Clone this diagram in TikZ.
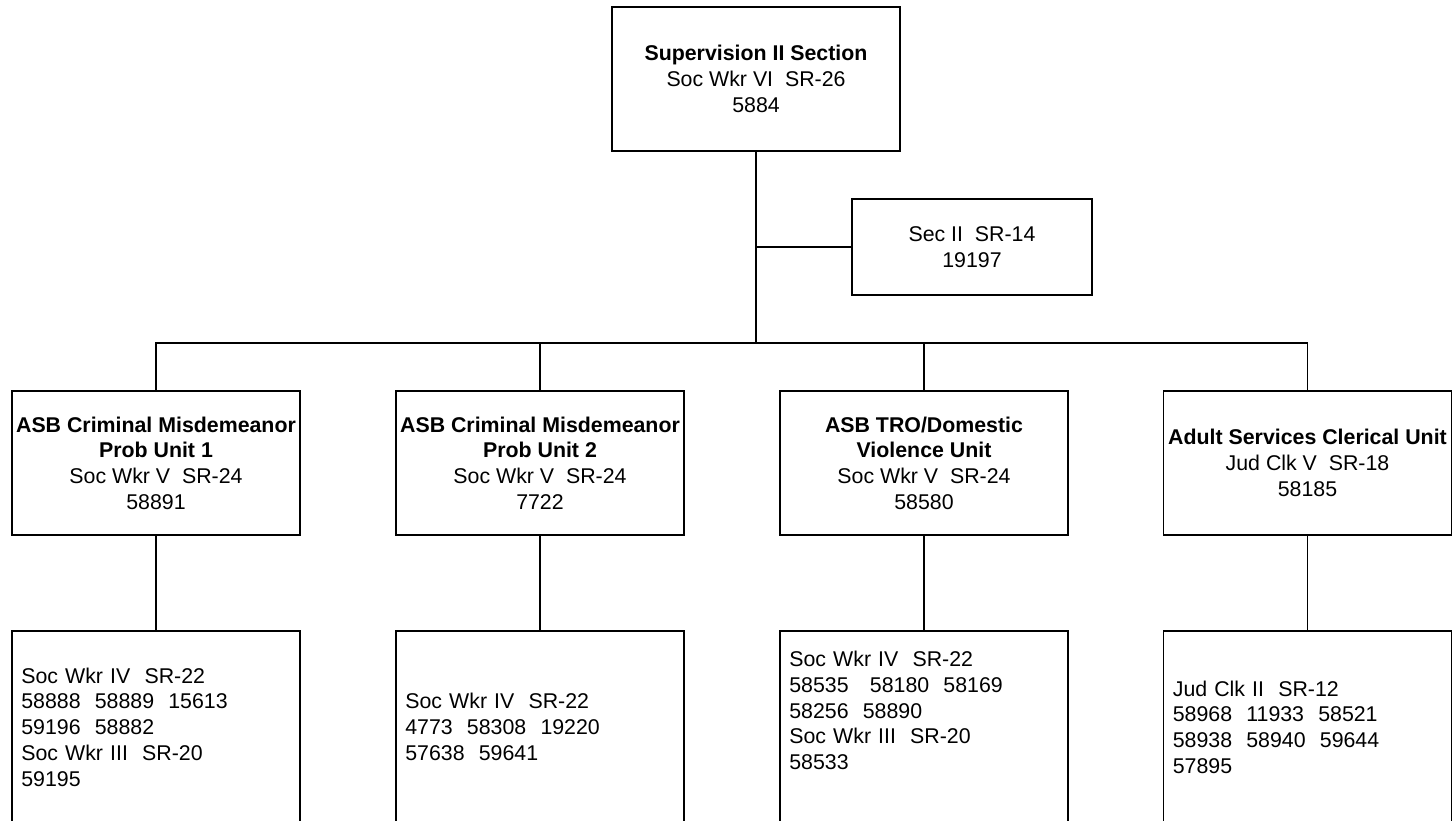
\documentclass[tikz,border=0pt]{standalone}
\usepackage{fontspec}
\setmainfont{Liberation Sans}
\begin{document}
\begin{tikzpicture}[x=0.75pt,y=-0.75pt,
  every node/.style={font=\fontsize{16}{19.3}\selectfont},
  box/.style={draw,line width=1.2pt,minimum width=216pt,minimum height=108pt,align=center,inner sep=1.5pt},
  staff/.style={draw,line width=1.2pt,minimum width=216pt,minimum height=144pt,text width=202pt,align=left,inner xsep=7pt},
  link/.style={line width=1.2pt}]
  \useasboundingbox (0,0) rectangle (1453,821);
  % head of section and its secretary
  \node[box] (sup) at (756,79) {\textbf{Supervision II Section}\\Soc Wkr VI~~SR-26\\5884};
  \node[box,minimum width=180pt,minimum height=72pt] (sec) at (972,247) {Sec II~~SR-14\\19197};
  \coordinate (bus) at (756,343);
  % units
  \node[box] (u1) at (156,463) {\textbf{ASB Criminal Misdemeanor}\\\textbf{Prob Unit 1}\\Soc Wkr V~~SR-24\\58891};
  \node[box] (u2) at (540,463) {\textbf{ASB Criminal Misdemeanor}\\\textbf{Prob Unit 2}\\Soc Wkr V~~SR-24\\7722};
  \node[box] (u3) at (924,463) {\textbf{ASB TRO/Domestic}\\\textbf{Violence Unit}\\Soc Wkr V~~SR-24\\58580};
  \node[box] (u4) at (1307.5,463) {\textbf{Adult Services Clerical Unit}\\Jud Clk V~~SR-18\\58185};
  % staff of each unit
  \node[staff] (s1) at (156,727) {Soc Wkr IV~~SR-22\\58888~~58889~~15613\\59196~~58882\\Soc Wkr III~~SR-20\\59195};
  \node[staff] (s2) at (540,727) {Soc Wkr IV~~SR-22\\4773~~58308~~19220\\57638~~59641};
  \node[staff] (s3) at (924,727) {Soc Wkr IV~~SR-22\\58535~~~58180~~58169\\58256~~58890\\Soc Wkr III~~SR-20\\58533\\\strut};
  \node[staff] (s4) at (1307.5,727) {Jud Clk II~~SR-12\\58968~~11933~~58521\\58938~~58940~~59644\\57895};
  \draw[link] (sup.south) -- (bus);
  \draw[link] (sup.south |- sec.west) -- (sec.west);
  \draw[link] (u1.north) -- (u1.north |- bus) -- (u4.north |- bus) -- (u4.north);
  \draw[link] (u2.north) -- (u2.north |- bus);
  \draw[link] (u3.north) -- (u3.north |- bus);
  \draw[link] (u1.south) -- (s1.north);
  \draw[link] (u2.south) -- (s2.north);
  \draw[link] (u3.south) -- (s3.north);
  \draw[link] (u4.south) -- (s4.north);
\end{tikzpicture}
\end{document}
